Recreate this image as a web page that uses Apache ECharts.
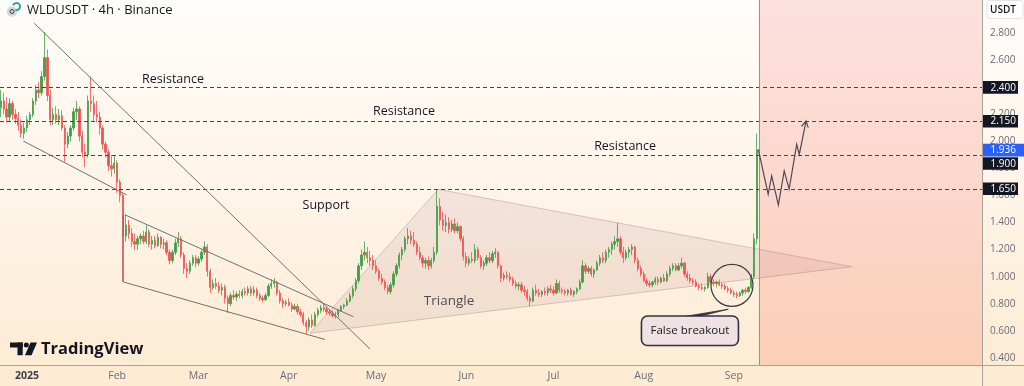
<!DOCTYPE html>
<html><head><meta charset="utf-8">
<script src="https://cdn.jsdelivr.net/npm/echarts@6/dist/echarts.min.js"></script>
<style>
html,body{margin:0;padding:0;width:1024px;height:386px;overflow:hidden;
background:linear-gradient(to bottom,#fffdfa 0%,#fef5ea 45%,#fdebd2 100%);}
#c{width:1024px;height:386px;}
</style></head><body><div id="c"></div>
<script>
// ---- data (day index: 0 = 2025-01-01), rows are [open, high, low, close] ----
const startDay = -9; // 2024-12-23
const dec24 = [[2.25,2.38,2.18,2.30],[2.30,2.36,2.20,2.24],[2.24,2.33,2.14,2.18],[2.18,2.32,2.15,2.28],[2.28,2.30,2.16,2.20],[2.20,2.24,2.13,2.17],[2.17,2.22,2.08,2.12],[2.12,2.16,2.03,2.06],[2.06,2.14,2.02,2.10]];
const jan = [[2.10,2.19,2.07,2.16],[2.16,2.22,2.12,2.20],[2.20,2.32,2.18,2.30],[2.30,2.42,2.27,2.38],[2.38,2.44,2.32,2.36],[2.36,2.52,2.34,2.48],[2.48,2.81,2.45,2.62],[2.62,2.68,2.30,2.34],[2.34,2.38,2.12,2.16],[2.16,2.25,2.12,2.20],[2.20,2.26,2.13,2.16],[2.16,2.24,2.12,2.19],[2.19,2.23,2.08,2.10],[2.10,2.12,1.85,1.98],[1.98,2.07,1.95,2.04],[2.04,2.12,2.00,2.10],[2.10,2.25,2.08,2.22],[2.22,2.30,2.16,2.24],[2.24,2.26,2.00,2.04],[2.04,2.08,1.88,1.92],[1.92,1.98,1.81,1.90],[1.90,2.34,1.88,2.30],[2.30,2.48,2.22,2.28],[2.28,2.34,2.15,2.20],[2.20,2.30,2.14,2.18],[2.18,2.22,2.05,2.10],[2.10,2.12,1.94,1.98],[1.98,2.00,1.88,1.92],[1.92,1.94,1.78,1.82],[1.82,1.90,1.74,1.80],[1.80,1.90,1.76,1.84]];
const feb = [[1.84,1.86,1.62,1.70],[1.70,1.72,1.55,1.60],[1.60,1.62,0.96,1.30],[1.30,1.46,1.26,1.38],[1.38,1.42,1.28,1.32],[1.32,1.36,1.22,1.26],[1.26,1.32,1.20,1.24],[1.24,1.30,1.20,1.28],[1.28,1.32,1.24,1.30],[1.30,1.34,1.24,1.26],[1.26,1.38,1.24,1.33],[1.33,1.35,1.22,1.24],[1.24,1.30,1.20,1.27],[1.27,1.30,1.21,1.23],[1.23,1.32,1.22,1.29],[1.29,1.30,1.21,1.24],[1.24,1.28,1.20,1.25],[1.25,1.27,1.16,1.18],[1.18,1.20,1.09,1.12],[1.12,1.20,1.10,1.18],[1.18,1.28,1.16,1.25],[1.25,1.33,1.22,1.28],[1.28,1.30,1.14,1.16],[1.16,1.18,1.02,1.06],[1.06,1.10,0.99,1.04],[1.04,1.12,1.02,1.10],[1.10,1.16,1.08,1.14],[1.14,1.16,1.07,1.10]];
const mar = [[1.10,1.15,1.08,1.13],[1.13,1.20,1.11,1.18],[1.18,1.26,1.16,1.22],[1.22,1.24,1.00,1.04],[1.04,1.06,0.88,0.92],[0.92,0.98,0.90,0.95],[0.95,0.99,0.91,0.93],[0.93,0.96,0.88,0.90],[0.90,0.95,0.86,0.92],[0.92,0.94,0.80,0.84],[0.84,0.86,0.73,0.80],[0.80,0.88,0.78,0.86],[0.86,0.90,0.83,0.85],[0.85,0.89,0.82,0.87],[0.87,0.90,0.84,0.86],[0.86,0.91,0.84,0.89],[0.89,0.92,0.86,0.88],[0.88,0.93,0.86,0.91],[0.91,0.93,0.86,0.88],[0.88,0.93,0.86,0.90],[0.90,0.92,0.84,0.86],[0.86,0.88,0.82,0.84],[0.84,0.86,0.81,0.83],[0.83,0.88,0.82,0.86],[0.86,0.95,0.85,0.93],[0.93,0.98,0.91,0.95],[0.95,0.99,0.92,0.96],[0.96,0.97,0.86,0.88],[0.88,0.90,0.80,0.82],[0.82,0.84,0.77,0.80],[0.80,0.83,0.78,0.81]];
const apr = [[0.81,0.84,0.78,0.79],[0.79,0.81,0.74,0.76],[0.76,0.80,0.75,0.78],[0.78,0.80,0.72,0.74],[0.74,0.76,0.70,0.72],[0.72,0.74,0.64,0.66],[0.66,0.68,0.58,0.63],[0.63,0.70,0.60,0.68],[0.68,0.72,0.62,0.64],[0.64,0.74,0.63,0.72],[0.72,0.77,0.70,0.75],[0.75,0.79,0.73,0.77],[0.77,0.80,0.74,0.76],[0.76,0.78,0.72,0.74],[0.74,0.76,0.71,0.73],[0.73,0.75,0.70,0.71],[0.71,0.74,0.69,0.72],[0.72,0.76,0.70,0.75],[0.75,0.79,0.74,0.78],[0.78,0.80,0.76,0.79],[0.79,0.84,0.78,0.82],[0.82,0.88,0.81,0.86],[0.86,0.93,0.84,0.91],[0.91,0.99,0.89,0.97],[0.97,1.10,0.95,1.08],[1.08,1.20,1.05,1.16],[1.16,1.26,1.12,1.18],[1.18,1.22,1.10,1.14],[1.14,1.19,1.08,1.12],[1.12,1.16,1.05,1.08]];
const may = [[1.08,1.12,1.02,1.04],[1.04,1.06,0.97,0.99],[0.99,1.02,0.94,0.96],[0.96,0.98,0.90,0.92],[0.92,0.94,0.87,0.89],[0.89,0.96,0.87,0.94],[0.94,1.04,0.92,1.02],[1.02,1.10,1.00,1.08],[1.08,1.18,1.06,1.16],[1.16,1.22,1.12,1.20],[1.20,1.30,1.18,1.28],[1.28,1.36,1.24,1.30],[1.30,1.34,1.24,1.27],[1.27,1.33,1.22,1.24],[1.24,1.26,1.16,1.18],[1.18,1.22,1.12,1.14],[1.14,1.16,1.07,1.10],[1.10,1.14,1.06,1.12],[1.12,1.15,1.05,1.08],[1.08,1.14,1.06,1.12],[1.12,1.22,1.10,1.18],[1.18,1.64,1.16,1.52],[1.52,1.58,1.38,1.42],[1.42,1.48,1.34,1.38],[1.38,1.46,1.33,1.40],[1.40,1.44,1.32,1.35],[1.35,1.42,1.33,1.39],[1.39,1.43,1.32,1.34],[1.34,1.40,1.32,1.37],[1.37,1.38,1.26,1.28],[1.28,1.30,1.12,1.15]];
const jun = [[1.15,1.18,1.07,1.10],[1.10,1.15,1.08,1.13],[1.13,1.18,1.10,1.12],[1.12,1.24,1.10,1.20],[1.20,1.22,1.12,1.14],[1.14,1.16,1.06,1.08],[1.08,1.12,1.05,1.10],[1.10,1.16,1.08,1.14],[1.14,1.18,1.10,1.12],[1.12,1.19,1.10,1.17],[1.17,1.21,1.14,1.18],[1.18,1.19,1.06,1.08],[1.08,1.09,0.96,0.99],[0.99,1.03,0.97,1.01],[1.01,1.04,0.98,1.00],[1.00,1.03,0.96,0.98],[0.98,1.00,0.93,0.95],[0.95,0.97,0.91,0.93],[0.93,0.96,0.90,0.94],[0.94,0.96,0.88,0.90],[0.90,0.93,0.86,0.89],[0.89,0.91,0.82,0.84],[0.84,0.86,0.78,0.82],[0.82,0.92,0.81,0.90],[0.90,0.94,0.86,0.88],[0.88,0.91,0.85,0.87],[0.87,0.90,0.85,0.89],[0.89,0.92,0.86,0.88],[0.88,0.93,0.86,0.91],[0.91,0.94,0.88,0.90]];
const jul = [[0.90,0.93,0.86,0.88],[0.88,0.98,0.87,0.95],[0.95,0.97,0.88,0.90],[0.90,0.92,0.87,0.89],[0.89,0.91,0.86,0.88],[0.88,0.91,0.86,0.90],[0.90,0.92,0.86,0.87],[0.87,0.90,0.85,0.89],[0.89,0.92,0.87,0.91],[0.91,0.98,0.90,0.96],[0.96,1.12,0.95,1.08],[1.08,1.10,1.02,1.04],[1.04,1.08,1.02,1.06],[1.06,1.08,1.00,1.02],[1.02,1.06,0.99,1.05],[1.05,1.12,1.04,1.10],[1.10,1.16,1.08,1.14],[1.14,1.18,1.10,1.12],[1.12,1.20,1.10,1.18],[1.18,1.22,1.14,1.20],[1.20,1.26,1.16,1.24],[1.24,1.30,1.20,1.26],[1.26,1.40,1.22,1.28],[1.28,1.30,1.16,1.18],[1.18,1.22,1.10,1.14],[1.14,1.20,1.12,1.18],[1.18,1.22,1.14,1.20],[1.20,1.24,1.16,1.22],[1.22,1.23,1.10,1.12],[1.12,1.14,1.04,1.06],[1.06,1.08,1.00,1.02]];
const aug = [[1.02,1.04,0.96,0.97],[0.97,0.99,0.93,0.95],[0.95,0.97,0.92,0.94],[0.94,0.97,0.92,0.96],[0.96,1.00,0.94,0.98],[0.98,1.00,0.94,0.96],[0.96,1.00,0.95,0.99],[0.99,1.02,0.96,0.97],[0.97,1.04,0.96,1.02],[1.02,1.08,1.00,1.06],[1.06,1.10,1.04,1.08],[1.08,1.10,1.04,1.05],[1.05,1.10,1.04,1.08],[1.08,1.14,1.06,1.10],[1.10,1.11,1.00,1.02],[1.02,1.04,0.97,0.99],[0.99,1.02,0.95,0.97],[0.97,0.99,0.94,0.96],[0.96,0.98,0.92,0.93],[0.93,0.95,0.90,0.92],[0.92,0.95,0.90,0.91],[0.91,0.93,0.89,0.92],[0.92,1.03,0.91,1.00],[1.00,1.02,0.95,0.96],[0.96,0.98,0.93,0.95],[0.95,0.97,0.92,0.96],[0.96,0.98,0.93,0.94],[0.94,0.96,0.91,0.93],[0.93,0.95,0.90,0.91],[0.91,0.93,0.88,0.90],[0.90,0.92,0.87,0.88]];
const sep = [[0.88,0.90,0.85,0.87],[0.87,0.89,0.84,0.86],[0.86,0.89,0.85,0.88],[0.88,0.91,0.86,0.90],[0.90,0.92,0.87,0.89],[0.89,0.93,0.88,0.92],[0.92,1.02,0.91,1.00],[1.00,1.32,0.98,1.28],[1.28,2.06,1.24,1.936]];

const monthTicks = [0, 31, 59, 90, 120, 151, 181, 212, 243];
const monthLabels = ['2025', 'Feb', 'Mar', 'Apr', 'May', 'Jun', 'Jul', 'Aug', 'Sep'];
const priceTicks = [0.4, 0.6, 0.8, 1.0, 1.2, 1.4, 1.6, 1.8, 2.0, 2.2, 2.4, 2.6, 2.8];
const levels = [2.4, 2.15, 1.9, 1.65];
const lastPrice = 1.936;
const nowDay = 251.6;

// drawings, in [day, price]
const trendLines = [
  [[2.5, 2.874], [117.9, 0.465]],
  [[-1.27, 2.003], [34.27, 1.604]],
  [[33.1, 1.457], [33.1, 0.961]],
  [[33.69, 1.457], [112.17, 0.704]],
  [[33.1, 0.961], [102.44, 0.535]]
];
const triangle = [[97.29, 0.582], [141.39, 1.646], [283.5, 1.074]];
const zigzag = [[251.4, 1.942], [254.8, 1.609], [256.0, 1.745], [258.3, 1.530], [260.3, 1.782], [262.0, 1.648], [264.6, 1.979], [265.5, 1.905], [267.8, 2.151]];
const notes = [
  {text: 'Resistance', at: [50.2, 2.462]},
  {text: 'Resistance', at: [129.6, 2.225]},
  {text: 'Resistance', at: [205.6, 1.966]},
  {text: 'Support', at: [102.8, 1.528]},
  {text: 'Triangle', at: [145.1, 0.821], color: '#4d4d58', size: 13.5}
];
const breakoutCircle = [242.35, 0.9356];
const calloutCenter = [227.9, 0.6];
const calloutTip = [241.1, 0.7594];
const calloutText = 'False breakout';

const ohlc = [].concat(dec24, jan, feb, mar, apr, may, jun, jul, aug, sep);
const candleData = ohlc.map((r, i) => [startDay + i, r[0], r[3], r[2], r[1]]);

const FONT = '"Open Sans", "Liberation Sans", sans-serif';

function underlay(params, api) {
  const cs = params.coordSys;
  const ch = [];
  const nx = api.coord([nowDay, 1])[0];
  ch.push({type: 'rect', shape: {x: nx, y: cs.y, width: cs.x + cs.width - nx, height: cs.height},
    style: {fill: new echarts.graphic.LinearGradient(0, 0, 0, 1, [
      {offset: 0, color: 'rgba(240,80,80,0.16)'}, {offset: 1, color: 'rgba(245,100,80,0.21)'}])}});
  ch.push({type: 'polygon', shape: {points: triangle.map(p => api.coord(p))},
    style: {fill: 'rgba(165,105,125,0.12)', stroke: 'rgba(150,115,130,0.35)', lineWidth: 1}});
  return {type: 'group', children: ch};
}

function overlay(params, api) {
  const cs = params.coordSys;
  const P = d => api.coord(d);
  const ch = [];
  const right = cs.x + cs.width;
  levels.forEach(v => {
    const y = Math.round(P([0, v])[1]) + 0.5;
    ch.push({type: 'line', shape: {x1: cs.x, y1: y, x2: right, y2: y},
      style: {stroke: '#44454c', lineWidth: 1, lineDash: [4, 3]}});
  });
  const nx = Math.round(P([nowDay, 1])[0]) + 0.5;
  ch.push({type: 'line', shape: {x1: nx, y1: cs.y, x2: nx, y2: cs.y + cs.height}, style: {stroke: '#f46a6a', lineWidth: 1}});
  trendLines.forEach(l => {
    const a = P(l[0]), b = P(l[1]);
    ch.push({type: 'line', shape: {x1: a[0], y1: a[1], x2: b[0], y2: b[1]}, style: {stroke: '#707070', lineWidth: 1}});
  });
  // circle
  const cc = P(breakoutCircle);
  ch.push({type: 'circle', shape: {cx: cc[0], cy: cc[1], r: 21}, style: {fill: null, stroke: '#3c3d47', lineWidth: 1.2}});
  // callout
  const bc = P(calloutCenter), tip = P(calloutTip);
  ch.push({type: 'polygon', shape: {points: [[bc[0] - 4, bc[1] - 14.5], tip, [bc[0] + 10, bc[1] - 14.5]]},
    style: {fill: '#2f3241', stroke: '#2f3241', lineWidth: 0.8}});
  ch.push({type: 'rect', shape: {x: bc[0] - 48.5, y: bc[1] - 14.8, width: 97, height: 29.6, r: 6},
    style: {fill: '#f0e1e2', stroke: '#2f3241', lineWidth: 1.6}});
  ch.push({type: 'text', x: bc[0], y: bc[1], style: {text: calloutText, fill: '#131722', fontSize: 11.5, fontFamily: FONT, align: 'center', verticalAlign: 'middle'}});
  // zigzag projection
  const zp = zigzag.map(P);
  ch.push({type: 'polyline', shape: {points: zp}, style: {fill: null, stroke: '#4a4a56', lineWidth: 1.2}});
  const T = zp[zp.length - 1], Q = zp[zp.length - 2];
  const dx = T[0] - Q[0], dy = T[1] - Q[1], len = Math.hypot(dx, dy);
  const ux = dx / len, uy = dy / len, L = 7, ang = Math.PI / 6;
  const w1 = [T[0] - L * (ux * Math.cos(ang) - uy * Math.sin(ang)), T[1] - L * (uy * Math.cos(ang) + ux * Math.sin(ang))];
  const w2 = [T[0] - L * (ux * Math.cos(-ang) - uy * Math.sin(-ang)), T[1] - L * (uy * Math.cos(-ang) + ux * Math.sin(-ang))];
  ch.push({type: 'polyline', shape: {points: [w1, T, w2]}, style: {fill: null, stroke: '#4a4a56', lineWidth: 1.2}});
  // notes
  notes.forEach(n => {
    const p = P(n.at);
    ch.push({type: 'text', x: p[0], y: p[1], style: {text: n.text, fill: n.color || '#131722', fontSize: n.size || 12.5, fontFamily: FONT, align: 'center', verticalAlign: 'middle'}});
  });
  // price boxes on the right scale
  const boxes = [
    {v: 2.4, bg: '#131722', dy: 0, w: 35},
    {v: 2.15, bg: '#131722', dy: 0, w: 35},
    {v: lastPrice, bg: '#2962ff', dy: 0, w: 41},
    {v: 1.9, bg: '#131722', dy: 8.5, w: 35},
    {v: 1.65, bg: '#131722', dy: 0, w: 35}
  ];
  boxes.forEach(b => {
    const yc = P([0, b.v])[1] + b.dy;
    ch.push({type: 'rect', shape: {x: right + 1, y: yc - 6.3, width: b.w, height: 12.6}, style: {fill: b.bg}});
    ch.push({type: 'text', x: right + 8.5, y: yc + 0.3, style: {text: b.v.toFixed(3), fill: '#ffffff', fontSize: 10, fontFamily: FONT, align: 'left', verticalAlign: 'middle'}});
  });
  return {type: 'group', children: ch};
}

const chart = echarts.init(document.getElementById('c'));
chart.setOption({
  animation: false,
  backgroundColor: 'transparent',
  grid: {left: 0, right: 42, top: 0, bottom: 21, containLabel: false},
  xAxis: {
    type: 'value', min: -9.28, max: 328.3,
    axisLine: {show: true, onZero: false, lineStyle: {color: '#a7a299', width: 1}},
    axisTick: {show: false}, splitLine: {show: false},
    axisLabel: {
      customValues: monthTicks, margin: 6, color: '#6a6d78', fontSize: 10.5, fontFamily: FONT,
      formatter: v => { const i = monthTicks.indexOf(Math.round(v)); return i === 0 ? '{y|' + monthLabels[0] + '}' : monthLabels[i]; },
      rich: {y: {fontWeight: 'bold', color: '#3d3e45', fontSize: 10.5, fontFamily: FONT}}
    }
  },
  yAxis: {
    type: 'value', position: 'right', min: 0.3466, max: 3.0463, scale: true,
    axisLine: {show: true, onZero: false, lineStyle: {color: '#a7a299', width: 1}},
    axisTick: {show: false}, splitLine: {show: false},
    axisLabel: {customValues: priceTicks, margin: 8, color: '#6a6d78', fontSize: 10, fontFamily: FONT, formatter: v => v.toFixed(3)}
  },
  series: [
    {type: 'custom', z: 1, silent: true, clip: false, data: [[100, 1]], renderItem: underlay},
    {type: 'candlestick', z: 2, data: candleData, encode: {x: 0, y: [1, 2, 3, 4]},
      barWidth: 1.8,
      itemStyle: {color: '#3f9e45', color0: '#ef5350', borderColor: '#3f9e45', borderColor0: '#ef5350', borderWidth: 0.8}},
    {type: 'custom', z: 3, silent: true, clip: false, data: [[100, 1]], renderItem: overlay}
  ],
  graphic: [
    {type: 'line', shape: {x1: 982, y1: 365.5, x2: 1024, y2: 365.5}, style: {stroke: '#a7a299', lineWidth: 1}},
    {type: 'line', shape: {x1: 982.5, y1: 365, x2: 982.5, y2: 386}, style: {stroke: '#a7a299', lineWidth: 1}},
    {type: 'rect', shape: {x: 987, y: 0.5, width: 36, height: 18, r: 3}, style: {fill: '#ffffff', stroke: '#e3e3e6', lineWidth: 1}},
    {type: 'text', x: 990, y: 10, style: {text: 'USDT', fill: '#131722', fontSize: 10, fontWeight: 600, fontFamily: FONT, verticalAlign: 'middle'}},
    {type: 'circle', shape: {cx: 12, cy: 11.5, r: 5.2}, style: {fill: '#d6d8da'}},
    {type: 'circle', shape: {cx: 12, cy: 11.5, r: 2}, style: {fill: null, stroke: '#3a3a3a', lineWidth: 1}},
    {type: 'arc', shape: {cx: 16.5, cy: 6.5, r: 3.5, startAngle: -Math.PI * 0.9, endAngle: Math.PI * 0.6}, style: {fill: null, stroke: '#1fa99a', lineWidth: 2}},
    {type: 'text', x: 27, y: 10, style: {text: 'WLDUSDT · 4h · Binance', fill: '#131722', fontSize: 13, fontFamily: FONT, verticalAlign: 'middle'}},
    {type: 'rect', shape: {x: 10, y: 342.5, width: 12.7, height: 5}, style: {fill: '#131722'}},
    {type: 'rect', shape: {x: 17.5, y: 342.5, width: 5.2, height: 12.7}, style: {fill: '#131722'}},
    {type: 'circle', shape: {cx: 26.3, cy: 345, r: 2.5}, style: {fill: '#131722'}},
    {type: 'polygon', shape: {points: [[30.5, 342.5], [37, 342.5], [31.5, 355.2], [25, 355.2]]}, style: {fill: '#131722'}},
    {type: 'text', x: 41, y: 349, style: {text: 'TradingView', fill: '#131722', fontSize: 16.5, fontWeight: 700, fontFamily: FONT, verticalAlign: 'middle'}}
  ]
});
</script></body></html>
